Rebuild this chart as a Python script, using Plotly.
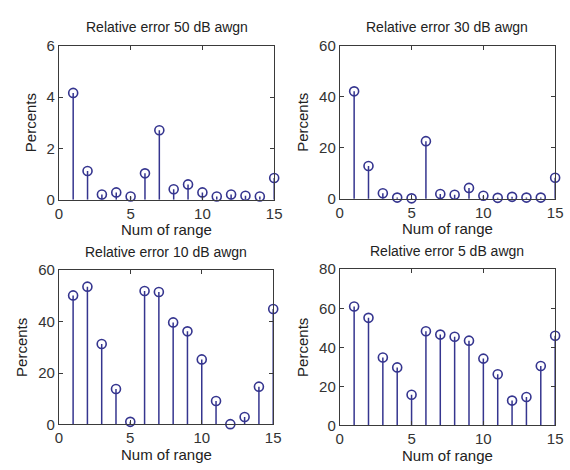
import plotly.graph_objects as go

x_vals = list(range(1, 16))
err_50db = [4.16, 1.12, 0.21, 0.29, 0.13, 1.03, 2.71, 0.41, 0.60, 0.29, 0.13, 0.21, 0.16, 0.13, 0.85]
err_30db = [42.1, 12.9, 2.2, 0.5, 0.2, 22.6, 1.9, 1.6, 4.3, 1.2, 0.4, 0.8, 0.5, 0.5, 8.3]
err_10db = [50.2, 53.6, 31.3, 13.8, 1.0, 51.9, 51.5, 39.7, 36.2, 25.3, 9.1, 0.1, 2.9, 14.7, 44.9]
err_5db = [60.9, 55.1, 34.8, 29.7, 15.7, 48.2, 46.5, 45.4, 43.4, 34.2, 26.2, 12.7, 14.5, 30.4, 45.9]

titles = ["Relative error 50 dB awgn", "Relative error 30 dB awgn",
          "Relative error 10 dB awgn", "Relative error 5 dB awgn"]
series = [err_50db, err_30db, err_10db, err_5db]
y_max = [6, 60, 60, 80]
y_dtick = [2, 20, 20, 20]

W, H = 570, 470
# plot boxes in pixels: (left, right, top, bottom)
boxes = [(56, 276, 38, 198), (343, 563, 38, 197), (56, 275, 271, 431), (343, 563, 270, 432)]
ylabel_offset = [29, 38, 38, 38]

STEM = "#35358f"
AXC = "#3a3a3a"
FONT = "Liberation Sans, Arial, sans-serif"

fig = go.Figure()
annotations = []
for i, (vals, ttl, ym, dt, box) in enumerate(zip(series, titles, y_max, y_dtick, boxes)):
    n = i + 1
    xa = "x" if n == 1 else f"x{n}"
    ya = "y" if n == 1 else f"y{n}"
    sx, sy = [], []
    for xv, yv in zip(x_vals, vals):
        sx += [xv, xv, None]
        sy += [0, yv, None]
    fig.add_trace(go.Scatter(x=sx, y=sy, mode="lines", line=dict(color=STEM, width=1.5),
                             xaxis=xa, yaxis=ya, showlegend=False, hoverinfo="skip"))
    fig.add_trace(go.Scatter(x=x_vals, y=vals, mode="markers",
                             marker=dict(symbol="circle-open", size=9, color=STEM,
                                         line=dict(width=1.6, color=STEM)),
                             xaxis=xa, yaxis=ya, showlegend=False, cliponaxis=False))
    l, r, t, b = box
    dom_x = [l / W, r / W]
    dom_y = [1 - b / H, 1 - t / H]
    axis_common = dict(showline=True, linecolor=AXC, linewidth=1, mirror="ticks",
                       ticks="inside", ticklen=4, tickcolor=AXC, showgrid=False,
                       zeroline=False, tickfont=dict(family=FONT, size=15, color="#333333"))
    fig.layout[f"xaxis{n if n > 1 else ''}"] = dict(domain=dom_x, range=[0, 15], dtick=5,
                                                    anchor=ya, **axis_common)
    fig.layout[f"yaxis{n if n > 1 else ''}"] = dict(domain=dom_y, range=[0, ym], dtick=dt,
                                                    anchor=xa, **axis_common)
    cx = (l + r) / 2
    cy = (t + b) / 2
    annotations.append(dict(text=ttl, x=cx / W, y=1 - (t - 19) / H, xref="paper", yref="paper",
                            showarrow=False, xanchor="center", yanchor="middle",
                            font=dict(family=FONT, size=14, color="#222222")))
    annotations.append(dict(text="Num of range", x=cx / W, y=1 - (b + 31) / H, xref="paper",
                            yref="paper", showarrow=False, xanchor="center", yanchor="middle",
                            font=dict(family=FONT, size=15, color="#222222")))
    annotations.append(dict(text="Percents", x=(l - ylabel_offset[i]) / W, y=1 - cy / H,
                            xref="paper", yref="paper", showarrow=False, xanchor="center",
                            yanchor="middle", textangle=-90,
                            font=dict(family=FONT, size=15, color="#222222")))

fig.update_layout(width=W, height=H, margin=dict(l=0, r=0, t=0, b=0),
                  paper_bgcolor="white", plot_bgcolor="white", annotations=annotations)
fig.write_html("out.html")
